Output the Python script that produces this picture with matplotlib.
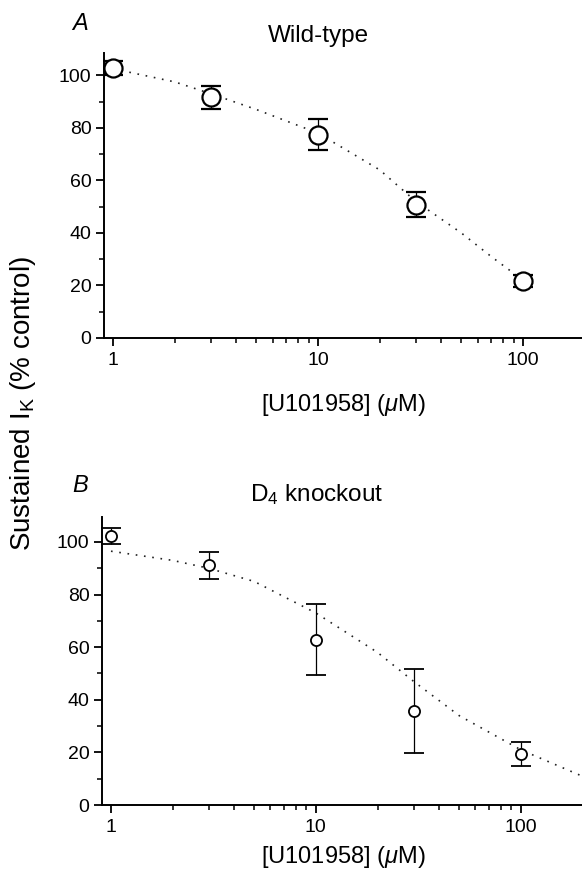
import matplotlib
matplotlib.use("Agg")
import matplotlib.pyplot as plt
from matplotlib.ticker import FixedLocator, NullFormatter

plt.rcParams['font.family'] = ['Liberation Sans', 'DejaVu Sans']
plt.rcParams['mathtext.fontset'] = 'custom'
plt.rcParams['mathtext.rm'] = 'Liberation Sans'
plt.rcParams['mathtext.it'] = 'Liberation Sans:italic'

# ---- data ----
conc = [1, 3, 10, 30, 100]

wt_mean = [102.8, 91.6, 77.4, 50.8, 21.7]
wt_err = [2.5, 4.3, 5.9, 4.8, 2.4]
wt_fit_x = [1, 2, 3, 5, 10, 20, 30, 50, 70, 100]
wt_fit_y = [102.5, 97.5, 93, 87, 78, 64, 52, 40, 31, 22]

ko_mean = [102.3, 91.1, 62.8, 35.7, 19.5]
ko_err = [3.1, 5.2, 13.5, 16.0, 4.6]
ko_fit_x = [1, 2, 3, 5, 10, 20, 30, 50, 100, 199]
ko_fit_y = [96.5, 93, 90, 85, 73, 58, 47, 34, 21, 11]

yticks = [0, 20, 40, 60, 80, 100]
yminor = [10, 30, 50, 70, 90]
xticks = [1, 10, 100]
xtick_labels = ['1', '10', '100']
xminor = [2, 3, 4, 5, 6, 7, 8, 9, 20, 30, 40, 50, 60, 70, 80, 90]

W, H = 582, 877
fig = plt.figure(figsize=(W / 100, H / 100), dpi=100)
fig.patch.set_facecolor('white')

axA = fig.add_axes([104 / W, 1 - 338 / H, (W - 104) / W, 285 / H])
axB = fig.add_axes([102 / W, 1 - 805 / H, (W - 102) / W, 288 / H])


def style(ax, ylim, xlim):
    ax.set_xscale('log')
    ax.set_xlim(*xlim)
    ax.set_ylim(*ylim)
    for s in ['top', 'right']:
        ax.spines[s].set_visible(False)
    for s in ['left', 'bottom']:
        ax.spines[s].set_linewidth(1.4)
        ax.spines[s].set_color('black')
    ax.yaxis.set_major_locator(FixedLocator(yticks))
    ax.yaxis.set_minor_locator(FixedLocator(yminor))
    ax.xaxis.set_major_locator(FixedLocator(xticks))
    ax.xaxis.set_minor_locator(FixedLocator(xminor))
    ax.set_xticklabels(xtick_labels)
    ax.xaxis.set_minor_formatter(NullFormatter())
    ax.tick_params(which='major', length=6, width=1.3, labelsize=14, pad=3, direction='out')
    ax.tick_params(which='minor', length=3.5, width=1.1, direction='out')
    ax.tick_params(axis='x', which='major', pad=4)


# Panel A
style(axA, (0, 108.5), (0.904, 194))
axA.plot(wt_fit_x, wt_fit_y, linestyle=(0, (1, 4)), color='#222222', linewidth=1.2)
axA.errorbar(conc, wt_mean, yerr=wt_err, fmt='o', markersize=13, markerfacecolor='white',
             markeredgecolor='black', markeredgewidth=1.6, ecolor='black', elinewidth=0.9,
             capsize=7, capthick=1.0, clip_on=False, zorder=3)

# Panel B
style(axB, (0, 109.5), (0.904, 199))
axB.plot(ko_fit_x, ko_fit_y, linestyle=(0, (1, 4)), color='#222222', linewidth=1.2)
axB.errorbar(conc, ko_mean, yerr=ko_err, fmt='o', markersize=8, markerfacecolor='white',
             markeredgecolor='black', markeredgewidth=1.3, ecolor='black', elinewidth=0.9,
             capsize=7, capthick=1.0, clip_on=False, zorder=3)


def ft(x, y, s, **kw):
    fig.text(x / W, 1 - y / H, s, ha='center', va='center', **kw)


ft(80, 23, 'A', fontsize=17, style='italic')
ft(318, 36, 'Wild-type', fontsize=17.5)
ft(343, 405, r'[U101958] ($\mu$M)', fontsize=17)

ft(80, 486, 'B', fontsize=17, style='italic')
ft(317, 495, r'D$_4$ knockout', fontsize=17.5)
ft(343, 857, r'[U101958] ($\mu$M)', fontsize=17)

ft(23, 403, r'Sustained I$_{\mathrm{K}}$ (% control)', fontsize=20, rotation=90)

fig.savefig('out.png', dpi=100)
